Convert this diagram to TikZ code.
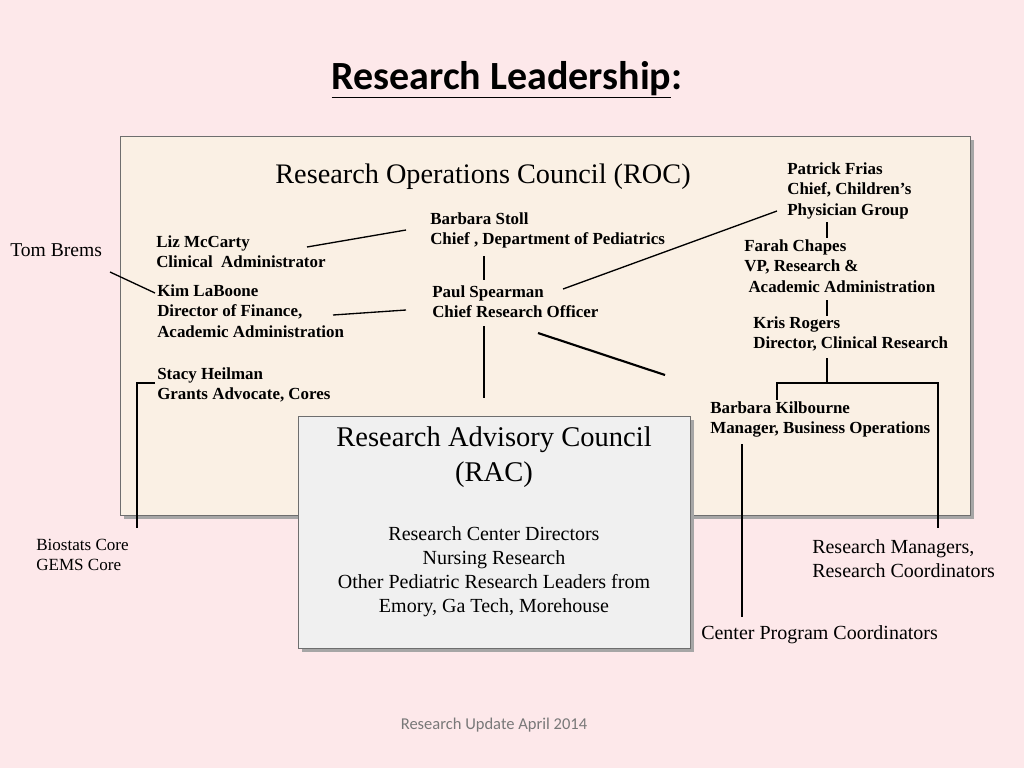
\documentclass[tikz,border=0pt]{standalone}
\usepackage{fontspec}
\setmainfont{Liberation Serif}
\newfontfamily\titlefont{Carlito}
\definecolor{slidebg}{RGB}{253,232,234}
\definecolor{rocfill}{RGB}{250,240,228}
\definecolor{racfill}{RGB}{240,240,240}
\definecolor{boxline}{RGB}{110,110,110}
\definecolor{footgray}{RGB}{120,120,120}
\tikzset{
  person/.style={anchor=north west,inner sep=0pt,align=left,font=\fontsize{12.7}{15.4}\selectfont\bfseries},
  plaintext/.style={anchor=north west,inner sep=0pt,align=left,font=\fontsize{12.8}{15}\selectfont},
  link/.style={line width=1pt},
}
\begin{document}
\begin{tikzpicture}[x=0.75pt,y=0.75pt,yscale=-1,xscale=1]
\fill[slidebg] (0,0) rectangle (1024,768);
\useasboundingbox (0,0) rectangle (1024,768);

% Title
\node (title) at (507,80) [font=\titlefont\fontsize{30}{34}\selectfont\bfseries] {\underline{Research Leadership}:};

% ROC box
\fill[gray!70] (124,140) rectangle (974,519);
\draw[boxline,fill=rocfill] (120,136) rectangle (970,515);
\node (roc) at (483,177) [font=\fontsize{21.2}{24}\selectfont] {Research Operations Council (ROC)};

% RAC box
\fill[gray!70] (302,420) rectangle (694,652);
\draw[boxline,fill=racfill] (298,416) rectangle (690,648);
\node (rac) at (494,457) [align=center,font=\fontsize{21.4}{26}\selectfont] {Research Advisory Council\\(RAC)};
\node (racbody) at (494,572) [align=center,font=\fontsize{15}{18}\selectfont] {Research Center Directors\\Nursing Research\\Other Pediatric Research Leaders from\\Emory, Ga Tech, Morehouse};

% People
\node (frias) at (787,162) [person] {Patrick Frias\\Chief, Children’s\\Physician Group};
\node (stoll) at (430,212) [person] {Barbara Stoll\\Chief , Department of Pediatrics};
\node (mccarty) at (156,235) [person] {Liz McCarty\\Clinical~ Administrator};
\node (chapes) at (744,239) [person] {Farah Chapes\\VP, Research \&\\\ Academic Administration};
\node (laboone) at (157,284) [person] {Kim LaBoone\\Director of Finance,\\Academic Administration};
\node (spearman) at (432,285) [person] {Paul Spearman\\Chief Research Officer};
\node (rogers) at (753,316) [person] {Kris Rogers\\Director, Clinical Research};
\node (heilman) at (157,367) [person] {Stacy Heilman\\Grants Advocate, Cores};
\node (kilbourne) at (710,401) [person] {Barbara Kilbourne\\Manager, Business Operations};

\node (brems) at (10,243) [plaintext,font=\fontsize{14.7}{15}\selectfont] {Tom Brems};
\node (cores) at (36,539) [plaintext] {Biostats Core\\GEMS Core};
\node (managers) at (812,539) [plaintext,font=\fontsize{15}{18}\selectfont] {Research Managers,\\Research Coordinators};
\node (centers) at (701,625) [plaintext,font=\fontsize{15}{18}\selectfont] {Center Program Coordinators};

% Connectors
\draw[link] (110,272) -- (155,293);
\draw[link] (307,247) -- (406,230);
\draw[link] (333,315) -- (406,310);
\draw[link] (484,256) -- (484,280);
\draw[link] (563,289) -- (777,211);
\draw[link] (827,222) -- (827,238);
\draw[link] (827,300) -- (827,316);
\draw[link] (827,358) -- (827,383);
\draw[link] (777,400) -- (777,383) -- (938,383) -- (938,528);
\draw[link] (484,326) -- (484,398);
\draw[link,line width=1.6pt] (538,333) -- (665,375);
\draw[link] (155,383) -- (137,383) -- (137,528);
\draw[link] (742,444) -- (742,617);

% Footer
\node (footer) at (494,725) [font=\titlefont\fontsize{12.4}{14}\selectfont,text=footgray] {Research Update April 2014};
\end{tikzpicture}
\end{document}
